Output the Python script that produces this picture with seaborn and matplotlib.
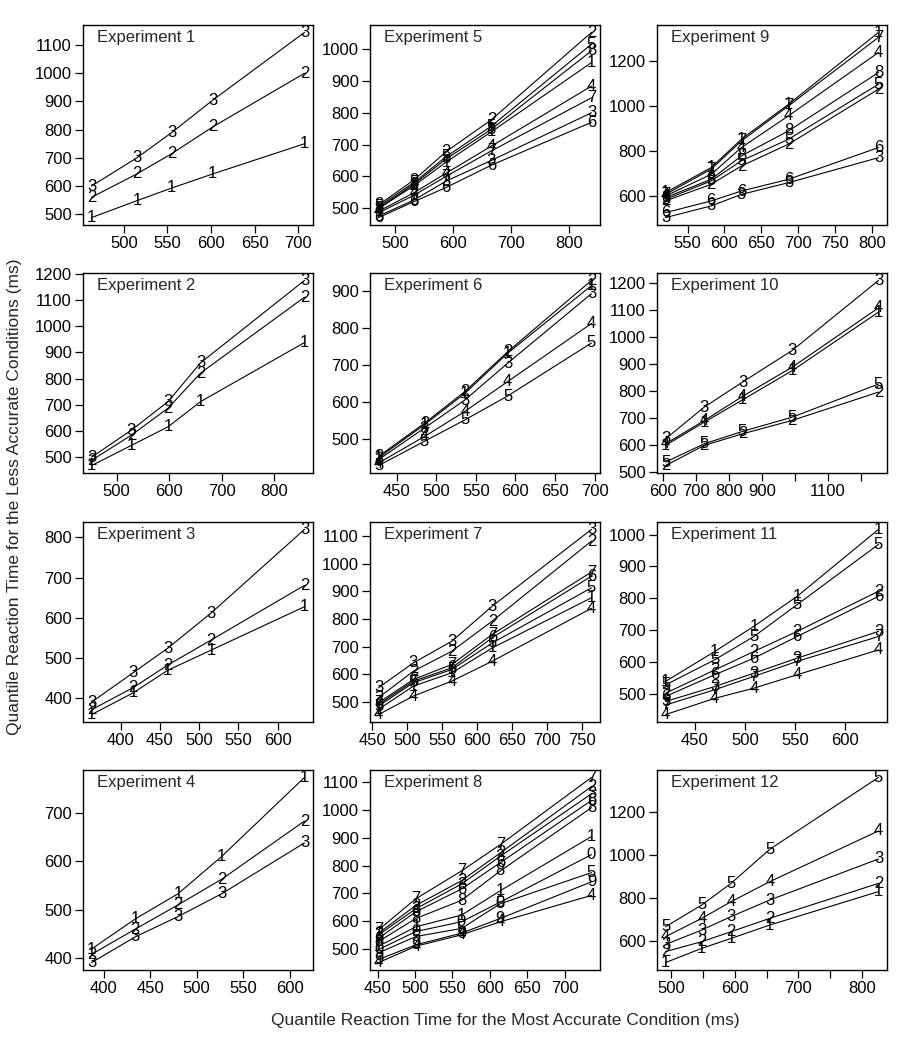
import matplotlib
matplotlib.use("Agg")
import matplotlib.pyplot as plt
import numpy as np
import pandas as pd
import seaborn as sns

# quantile RT of the most accurate condition (x) and of each less accurate
# condition (y), one small block per experiment
exp1_x = [463, 515, 555, 602, 707]
exp1_y = {"1": [488, 548, 593, 643, 750],
          "2": [560, 643, 715, 810, 1000],
          "3": [600, 700, 790, 905, 1145]}

exp2_x = [452, 528, 598, 660, 858]
exp2_y = {"1": [468, 545, 616, 712, 937],
          "2": [488, 584, 687, 821, 1110],
          "3": [500, 603, 712, 860, 1174]}

exp3_x = [363, 416, 460, 515, 634]
exp3_y = {"1": [360, 414, 470, 520, 628],
          "2": [372, 427, 483, 545, 681],
          "3": [391, 464, 525, 612, 820]}

exp4_x = [387, 434, 480, 527, 616]
exp4_y = {"1": [419, 481, 533, 610, 773],
          "2": [408, 460, 510, 563, 683],
          "3": [391, 444, 486, 533, 638]}

exp5_x = [471, 532, 588, 666, 839]
exp5_y = {"1": [498, 570, 645, 740, 958],
          "2": [510, 588, 678, 778, 1053],
          "3": [475, 525, 585, 650, 800],
          "4": [490, 548, 610, 695, 884],
          "5": [505, 580, 662, 758, 1016],
          "6": [470, 520, 565, 635, 770],
          "7": [485, 540, 600, 680, 847],
          "8": [500, 575, 655, 748, 995]}

exp6_x = [427, 485, 536, 590, 696]
exp6_y = {"1": [448, 538, 623, 732, 916],
          "2": [452, 542, 628, 736, 930],
          "3": [443, 529, 605, 705, 894],
          "4": [434, 506, 574, 655, 813],
          "5": [427, 493, 551, 616, 760]}

exp7_x = [459, 509, 564, 622, 764]
exp7_y = {"1": [474, 558, 606, 696, 877],
          "2": [516, 612, 684, 793, 1082],
          "3": [552, 642, 720, 847, 1124],
          "4": [455, 522, 576, 648, 839],
          "5": [486, 570, 618, 714, 913],
          "6": [492, 576, 624, 733, 955],
          "7": [498, 582, 636, 745, 970]}

exp8_x = [451, 501, 562, 614, 736]
exp8_y = {"0": [498, 563, 598, 669, 840],
          "1": [510, 580, 622, 710, 905],
          "2": [557, 657, 746, 846, 1085],
          "3": [551, 645, 734, 834, 1059],
          "4": [451, 510, 551, 598, 693],
          "5": [486, 545, 574, 663, 775],
          "6": [539, 634, 716, 811, 1035],
          "7": [569, 681, 781, 876, 1118],
          "8": [527, 610, 675, 781, 1009],
          "9": [462, 515, 557, 610, 742]}

exp9_x = [520, 582, 623, 687, 809]
exp9_y = {"1": [615, 726, 852, 1007, 1326],
          "2": [578, 652, 733, 830, 1074],
          "3": [504, 556, 607, 659, 770],
          "4": [600, 696, 815, 956, 1237],
          "5": [585, 667, 756, 852, 1096],
          "6": [526, 578, 622, 674, 815],
          "7": [607, 719, 844, 1000, 1304],
          "8": [593, 674, 778, 889, 1148]}

exp10_x = [608, 725, 841, 992, 1253]
exp10_y = {"1": [597, 683, 766, 875, 1092],
           "2": [522, 597, 640, 690, 795],
           "3": [621, 739, 832, 950, 1210],
           "4": [603, 689, 779, 888, 1108],
           "5": [535, 603, 649, 702, 825]}

exp11_x = [421, 470, 509, 552, 633]
exp11_y = {"1": [539, 633, 712, 806, 1016],
           "2": [502, 575, 633, 696, 822],
           "3": [476, 523, 565, 612, 696],
           "4": [435, 486, 518, 560, 638],
           "5": [528, 607, 680, 780, 969],
           "6": [492, 560, 612, 680, 806],
           "7": [465, 513, 555, 602, 680]}

exp12_x = [491, 548, 594, 655, 826]
exp12_y = {"1": [500, 566, 612, 674, 829],
           "2": [551, 597, 643, 705, 867],
           "3": [584, 651, 713, 790, 980],
           "4": [620, 705, 782, 875, 1110],
           "5": [666, 767, 867, 1025, 1358]}

xs = [exp1_x, exp2_x, exp3_x, exp4_x, exp5_x, exp6_x,
      exp7_x, exp8_x, exp9_x, exp10_x, exp11_x, exp12_x]
ys = [exp1_y, exp2_y, exp3_y, exp4_y, exp5_y, exp6_y,
      exp7_y, exp8_y, exp9_y, exp10_y, exp11_y, exp12_y]

x_ticks = [
    [500, 550, 600, 650, 700],
    [500, 600, 700, 800],
    [400, 450, 500, 550, 600],
    [400, 450, 500, 550, 600],
    [500, 600, 700, 800],
    [450, 500, 550, 600, 650, 700],
    [450, 500, 550, 600, 650, 700, 750],
    [450, 500, 550, 600, 650, 700],
    [550, 600, 650, 700, 750, 800],
    [600, 700, 800, 900, 1000, 1100, 1200],
    [450, 500, 550, 600],
    [500, 550, 600, 650, 700, 750, 800],
]
# labels R dropped because they would overlap
x_ticklabels = {
    9: ["600", "700", "800", "900", "", "1100", ""],
    11: ["500", "", "600", "", "700", "", "800"],
}
y_ticks = [
    [500, 600, 700, 800, 900, 1000, 1100],
    [500, 600, 700, 800, 900, 1000, 1100, 1200],
    [400, 500, 600, 700, 800],
    [400, 500, 600, 700],
    [500, 600, 700, 800, 900, 1000],
    [500, 600, 700, 800, 900],
    [500, 600, 700, 800, 900, 1000, 1100],
    [500, 600, 700, 800, 900, 1000, 1100],
    [600, 800, 1000, 1200],
    [500, 600, 700, 800, 900, 1000, 1100, 1200],
    [500, 600, 700, 800, 900, 1000],
    [600, 800, 1000, 1200],
]

FIG_W, FIG_H = 899, 1050
COL_LEFT = [83, 370, 657]
ROW_TOP = [25, 273, 522, 770]
BOX_W, BOX_H = 230, 200
FS = 12
LABEL_FS = 12.5


def padded(values):
    lo, hi = min(values), max(values)
    pad = (hi - lo) * 0.04
    return lo - pad, hi + pad


sns.set_theme(style="ticks")
plt.rcParams["font.family"] = ["Liberation Sans", "DejaVu Sans"]

fig = plt.figure(figsize=(FIG_W / 100, FIG_H / 100), dpi=100)
fig.patch.set_facecolor("white")

for i in range(12):
    col, row = i // 4, i % 4
    ax = fig.add_axes([COL_LEFT[col] / FIG_W,
                       1 - (ROW_TOP[row] + BOX_H) / FIG_H,
                       BOX_W / FIG_W, BOX_H / FIG_H])
    rows = []
    for cond, vals in ys[i].items():
        for xv, yv in zip(xs[i], vals):
            rows.append({"x": xv, "rt": yv, "cond": cond})
    df = pd.DataFrame(rows)

    sns.lineplot(data=df, x="x", y="rt", units="cond", estimator=None,
                 color="black", linewidth=0.8, ax=ax, legend=False)
    for _, r in df.iterrows():
        ax.text(r["x"], r["rt"], r["cond"], ha="center", va="center",
                fontsize=FS, color="black")

    ax.set_xlim(*padded(df["x"]))
    ax.set_ylim(*padded(df["rt"]))
    ax.set_xticks(x_ticks[i])
    if i in x_ticklabels:
        ax.set_xticklabels(x_ticklabels[i])
    ax.set_yticks(y_ticks[i])
    ax.set_xlabel("")
    ax.set_ylabel("")
    for sp in ax.spines.values():
        sp.set_visible(True)
        sp.set_color("black")
        sp.set_linewidth(1.0)
    ax.tick_params(direction="out", length=6, width=0.9, pad=2,
                   labelsize=FS, colors="black")
    ax.text(0.06, 0.975, f"Experiment {i + 1}", transform=ax.transAxes,
            ha="left", va="top", fontsize=FS)

fig.text(505 / FIG_W, 1 - 1020 / FIG_H,
         "Quantile Reaction Time for the Most Accurate Condition (ms)",
         ha="center", va="center", fontsize=LABEL_FS)
fig.text(15 / FIG_W, 1 - 497 / FIG_H,
         "Quantile Reaction Time for the Less Accurate Conditions (ms)",
         ha="center", va="center", rotation=90, fontsize=LABEL_FS)

plt.savefig("out.png", dpi=100)
plt.close()
